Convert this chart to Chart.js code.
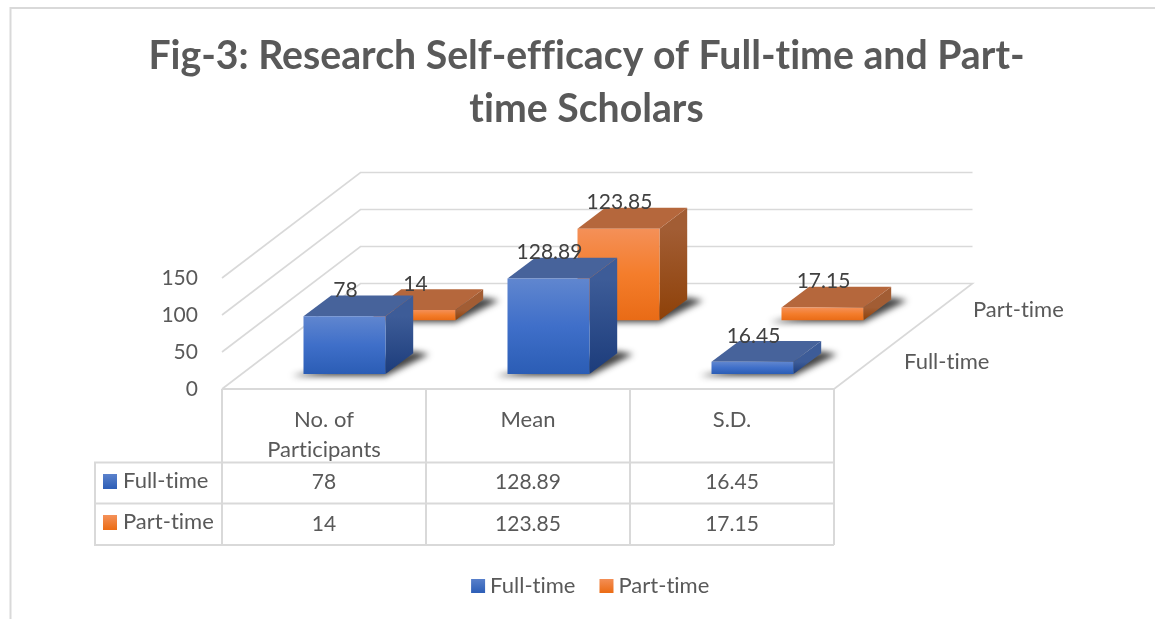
<!DOCTYPE html>
<html><head><meta charset="utf-8">
<style>html,body{margin:0;padding:0;background:#fff}canvas{display:block}</style>
<script src="https://cdn.jsdelivr.net/npm/chart.js@4"></script>
</head><body><canvas id="c" width="1155" height="619"></canvas>
<script>
const categories = [["No. of","Participants"],"Mean","S.D."];
const seriesNames = ["Full-time","Part-time"];
const fullTime = [78,128.89,16.45];
const partTime = [14,123.85,17.15];
const titleLines = ["Fig-3: Research Self-efficacy of Full-time and Part-","time Scholars"];
const yMax = 150, yStep = 50;

const FONT = "Lato";
const TXT = "#595959", GRID = "#d9d9d9";
const DEPTH = {x:138.5,y:-105.5};
const ROW = [{x:20.5,y:-15},{x:90.5,y:-68.7}];
const BAR = {x:27.7,y:-20.8};
const LEG={x:7,y:-12};
const STYLE = [
 {front:["#6086cf","#3f6fc9","#2b5db5"],top:"#47639b",side:["#3d5c98","#1c3c7b"],swatch:["#5b82cc","#2f60b8"]},
 {front:["#f49058","#f47d2b","#e96b16"],top:"#b5673c",side:["#a25d34","#8e4108"],swatch:["#f4915a","#ec6e18"]}
];
const cv = document.getElementById('c');
const g = cv.getContext('2d');
g.letterSpacing="0.01px";
function lin(y0,y1,stops){const l=g.createLinearGradient(0,y0,0,y1);stops.forEach((s,i)=>l.addColorStop(i/(stops.length-1),s));return l;}
function fillPoly(ctx,pts,fill){ctx.beginPath();pts.forEach((p,i)=>i?ctx.lineTo(p[0],p[1]):ctx.moveTo(p[0],p[1]));ctx.closePath();ctx.fillStyle=fill;ctx.fill();}
function frontFill(c){
  const st=STYLE[c.datasetIndex];
  const y=c.chart.scales.y;
  if(c.dataIndex===undefined||!y) return st.front[1];
  const t=y.getPixelForValue(c.chart.data.datasets[c.datasetIndex].data[c.dataIndex]), b=y.getPixelForValue(0);
  return lin(t,b,st.front);
}
const threeD = {
  id:'threeD',
  beforeDraw(chart){
    const {ctx,scales:{y},chartArea:a}=chart;
    ctx.letterSpacing="0.01px";
    ctx.save();
    ctx.fillStyle="#fff";ctx.fillRect(0,0,chart.width,chart.height);
    ctx.strokeStyle=GRID;ctx.lineWidth=2;
    ctx.beginPath();ctx.moveTo(10.5,619);ctx.lineTo(10.5,8);ctx.lineTo(1155,8);ctx.stroke();
    ctx.lineWidth=1.6;
    y.ticks.forEach(t=>{
      const p=y.getPixelForValue(t.value);
      ctx.beginPath();ctx.moveTo(a.left,p);ctx.lineTo(a.left+DEPTH.x,p+DEPTH.y);ctx.lineTo(a.right+DEPTH.x,p+DEPTH.y);
      if(t.value===0) ctx.lineTo(a.right,p);
      ctx.stroke();
    });
    const x=chart.scales.x, base=a.bottom, n=categories.length, cw=(a.right-a.left)/n;
    ctx.lineWidth=2;ctx.beginPath();
    const rows=[462.5,503.5,545];
    ctx.moveTo(a.left,base);ctx.lineTo(a.right,base);
    for(let i=0;i<=n;i++){ctx.moveTo(a.left+i*cw,base);ctx.lineTo(a.left+i*cw,rows[2]);}
    rows.forEach(r=>{ctx.moveTo(95,r);ctx.lineTo(a.right,r);});
    ctx.moveTo(95,rows[0]-1);ctx.lineTo(95,rows[2]+1);
    ctx.stroke();
    ctx.textBaseline="middle";
    [fullTime,partTime].forEach((d,r)=>{
      const cy=[482.5,524.5][r], ly=[481,522][r], sy=[474,515][r];
      ctx.fillStyle=lin(sy,sy+14,STYLE[r].swatch);ctx.fillRect(103,sy,14,15);
      ctx.font="22px "+FONT;
      ctx.fillStyle=TXT;ctx.textAlign="left";ctx.fillText(seriesNames[r],123,ly);
      ctx.textAlign="center";ctx.font="21px "+FONT;
      d.forEach((v,i)=>ctx.fillText(String(v),x.getPixelForTick(i),cy));
    });
    ctx.textAlign="left";ctx.font="22px "+FONT;
    ctx.fillText(seriesNames[1],973,310);
    ctx.fillText(seriesNames[0],904,362);
    ctx.restore();
  },
  afterLayout(chart){
    const l=chart.legend;
    l.left+=LEG.x;l.right+=LEG.x;l.top+=LEG.y;l.bottom+=LEG.y;
  },
  beforeDatasetDraw(chart,args){
    const {ctx}=chart, i=args.index, o=ROW[i], st=STYLE[i];
    ctx.save();ctx.translate(o.x,o.y);
    chart.getDatasetMeta(i).data.forEach(b=>{
      const L=b.x-b.width/2,R=b.x+b.width/2,T=b.y,B=b.base;
      ctx.save();ctx.filter="blur(3px)";
      fillPoly(ctx,[[L-12,B+2],[R,B+2],[R+BAR.x+16,B+BAR.y+1],[R+BAR.x,B+BAR.y-2]],"rgba(20,20,20,.8)");
      ctx.restore();
      fillPoly(ctx,[[R,T],[R+BAR.x,T+BAR.y],[R+BAR.x,B+BAR.y],[R,B]],lin(T,B,st.side));
      fillPoly(ctx,[[L,T],[L+BAR.x,T+BAR.y],[R+BAR.x,T+BAR.y],[R,T]],st.top);
    });
  },
  afterDatasetDraw(chart){chart.ctx.restore();},
  afterDatasetsDraw(chart){
    const {ctx}=chart;
    ctx.save();ctx.font="21px "+FONT;ctx.fillStyle="#404040";ctx.textAlign="center";ctx.textBaseline="middle";
    chart.data.datasets.forEach((d,i)=>{
      const o=ROW[i];
      chart.getDatasetMeta(i).data.forEach((b,j)=>ctx.fillText(String(d.data[j]),b.x+o.x+1,b.y+o.y-26));
    });
    ctx.restore();
  }
};
new Chart(cv,{
  type:'bar',
  plugins:[threeD],
  data:{labels:categories,datasets:[
    {label:seriesNames[0],data:fullTime,backgroundColor:frontFill,xAxisID:'x',yAxisID:'y',clip:false,grouped:false,categoryPercentage:1,barPercentage:.402},
    {label:seriesNames[1],data:partTime,backgroundColor:frontFill,xAxisID:'x',yAxisID:'y',clip:false,grouped:false,categoryPercentage:1,barPercentage:.402}
  ]},
  options:{
    responsive:false,animation:false,events:[],
    layout:{padding:{left:18,top:0,right:0,bottom:0}},
    scales:{
      x:{type:'category',grid:{display:false},border:{display:false},
        ticks:{color:TXT,font:{family:FONT,size:22,lineHeight:30/22},padding:8,maxRotation:0,autoSkip:false},
        afterFit(s){s.height=168;}},
      y:{type:'linear',min:0,max:yMax,position:'left',grid:{display:false},border:{display:false},
        ticks:{stepSize:yStep,color:TXT,font:{family:FONT,size:21},padding:16},
        afterFit(s){s.width=204;}},
      pad:{type:'linear',position:'right',display:true,grid:{display:false},border:{display:false},
        ticks:{display:false},afterFit(s){s.width=321;}}
    },
    plugins:{
      tooltip:{enabled:false},
      title:{display:true,text:titleLines,color:TXT,font:{family:FONT,size:39.2,weight:'bold',lineHeight:53/39.2},padding:{top:30,bottom:142}},
      legend:{display:true,position:'bottom',labels:{color:TXT,font:{family:FONT,size:22},boxWidth:2,boxHeight:2,padding:30,
        generateLabels(){return seriesNames.map((n,i)=>{const f=lin(578,592,STYLE[i].swatch);return {text:n,fillStyle:f,strokeStyle:f,lineWidth:12,fontColor:TXT,datasetIndex:i};});}}}
    }
  }
});
</script></body></html>
